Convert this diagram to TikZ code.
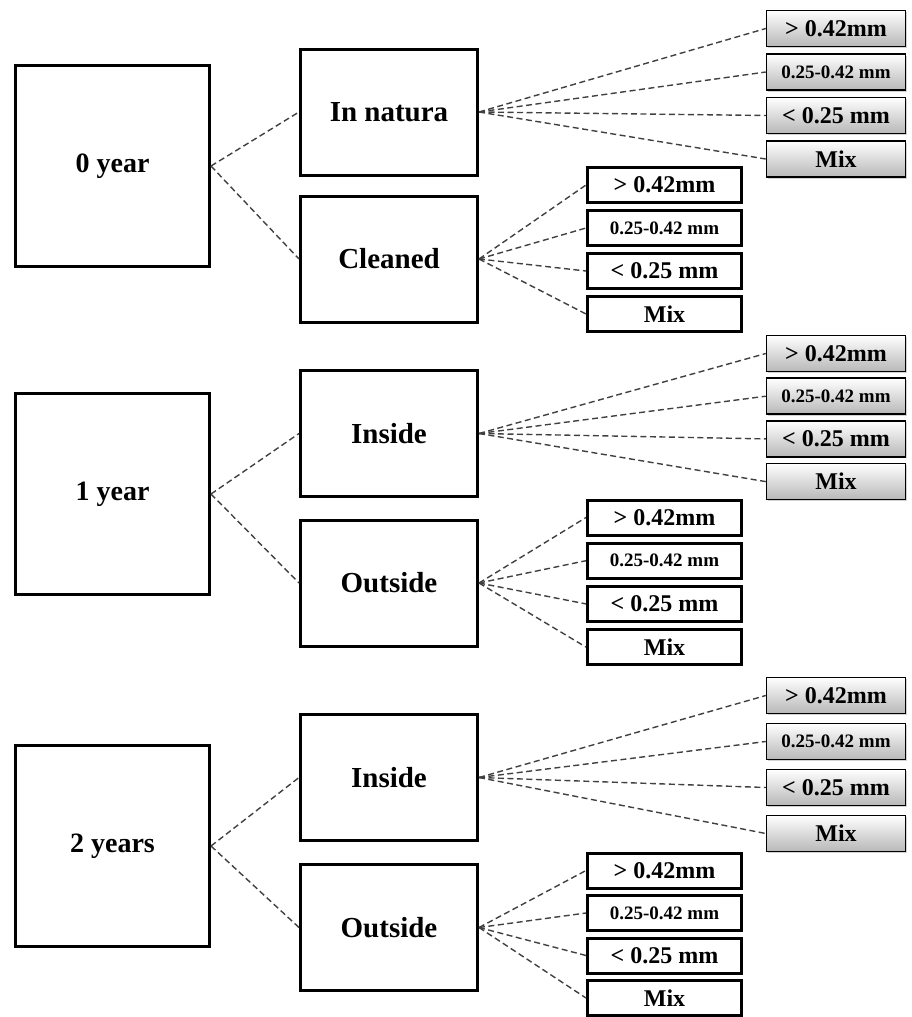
\documentclass[tikz,border=0pt]{standalone}
\usepackage{fontspec}
\setmainfont{Liberation Serif}
\usetikzlibrary{positioning,shadows}

\tikzset{
  agebox/.style={draw,line width=3pt,minimum width=194pt,minimum height=201pt,font=\fontsize{28}{32}\selectfont\bfseries},
  sitebox/.style={draw,line width=3pt,minimum width=177pt,minimum height=126pt,font=\fontsize{29}{32}\selectfont\bfseries},
  sizebox/.style={draw,line width=3pt,minimum width=154pt,minimum height=35pt,inner sep=0pt,font=\fontsize{24}{26}\selectfont\bfseries},
  graybox/.style={draw,line width=1.5pt,minimum width=139pt,minimum height=36pt,inner sep=0pt,top color=white,bottom color=black!28,
    drop shadow={shadow xshift=1.5pt,shadow yshift=-1.5pt,opacity=.35},font=\fontsize{24}{26}\selectfont\bfseries},
  smalltxt/.style={font=\fontsize{19}{21}\selectfont\bfseries},
  link/.style={draw=black!75,line width=1.4pt,dash pattern=on 6pt off 3.5pt},
}

\begin{document}
\begin{tikzpicture}[x=1pt,y=-1pt]
\useasboundingbox (0,0) rectangle (912,1017);
% age of the material
\node[agebox] (y0) at (112.5,166) {0 year};
\node[agebox] (y1) at (112.5,494) {1 year};
\node[agebox] (y2) at (112.5,846) {2 years};
% treatment / storage
\node[sitebox] (nat) at (389,112) {In natura};
\node[sitebox] (cln) at (389,259) {Cleaned};
\node[sitebox] (in1) at (389,433.5) {Inside};
\node[sitebox] (out1) at (389,583) {Outside};
\node[sitebox] (in2) at (389,777.5) {Inside};
\node[sitebox] (out2) at (389,927.5) {Outside};
% particle size classes
\foreach \s/\x/\y/\d/\st in {nat/836/28.5/43.5/graybox, cln/664.5/185/43/sizebox,
    in1/836/353.5/42.7/graybox, out1/664.5/517.5/43.2/sizebox,
    in2/836/695.5/46/graybox, out2/664.5/870.5/42.5/sizebox}{
  \node[\st] (\s1) at (\x,\y) {> 0.42mm};
  \node[\st,smalltxt] (\s2) at (\x,\y+\d) {0.25-0.42 mm};
  \node[\st] (\s3) at (\x,\y+2*\d) {< 0.25 mm};
  \node[\st] (\s4) at (\x,\y+3*\d) {Mix};
}
% connectors
\draw[link] (y0.east) -- (nat.west);
\draw[link] (y0.east) -- (cln.west);
\draw[link] (y1.east) -- (in1.west);
\draw[link] (y1.east) -- (out1.west);
\draw[link] (y2.east) -- (in2.west);
\draw[link] (y2.east) -- (out2.west);
\foreach \s in {nat,cln,in1,out1,in2,out2}
  \foreach \i in {1,...,4}
    \draw[link] (\s.east) -- (\s\i.west);
\end{tikzpicture}
\end{document}
